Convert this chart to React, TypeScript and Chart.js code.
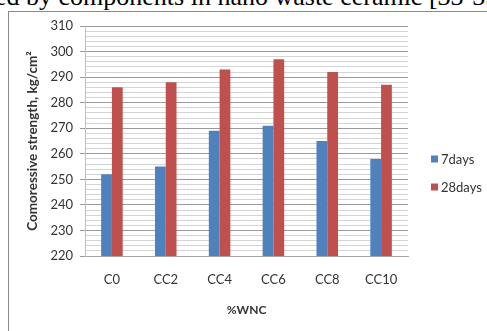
import React, { useEffect, useRef } from "react";
import { Chart, registerables } from "chart.js";

Chart.register(...registerables);

const categories = ["C0", "CC2", "CC4", "CC6", "CC8", "CC10"];
const days7 = [252, 255, 269, 271, 265, 258];
const days28 = [286, 288, 293, 297, 292, 287];
const seriesNames = ["7days", "28days"];
const seriesColors = ["#4F81BD", "#C0504D"];
const yMin = 220;
const yMax = 310;

const FONT = "Lato, 'Open Sans', sans-serif";

// Legend drawn to the right of the plot
const sideLegend = {
  id: "sideLegend",
  afterDraw(chart: any) {
    const { ctx } = chart;
    const x = 431;
    const ys = [159, 187];
    ctx.save();
    ctx.font = `13px ${FONT}`;
    ctx.textBaseline = "middle";
    chart.data.datasets.forEach((ds: any, i: number) => {
      const y = ys[i];
      ctx.fillStyle = ds.backgroundColor;
      ctx.fillRect(x, y - 3.5, 7, 7);
      ctx.fillStyle = "#333";
      ctx.fillText(ds.label, x + 10, y + 0.5);
    });
    ctx.restore();
  },
};

export default function App() {
  const canvasRef = useRef<HTMLCanvasElement | null>(null);

  useEffect(() => {
    if (!canvasRef.current) return;
    const chart = new Chart(canvasRef.current, {
      type: "bar",
      data: {
        labels: categories,
        datasets: [
          { label: seriesNames[0], data: days7, backgroundColor: seriesColors[0] },
          { label: seriesNames[1], data: days28, backgroundColor: seriesColors[1] },
        ],
      },
      options: {
        responsive: false,
        animation: false,
        layout: { padding: { top: 26, right: 79, left: 0, bottom: 0 } },
        plugins: { legend: { display: false }, tooltip: { enabled: false } },
        datasets: { bar: { categoryPercentage: 0.4, barPercentage: 1 } },
        scales: {
          x: {
            grid: { display: false, drawTicks: false },
            border: { display: true, color: "#a6a6a6" },
            ticks: { color: "#333", font: { family: FONT, size: 13 }, padding: 16 },
            title: {
              display: true,
              text: "%WNC",
              color: "#333",
              font: { family: FONT, size: 12, weight: "bold" },
              padding: { top: 0, bottom: 14 },
            },
            afterFit(scale: any) {
              scale.height = 75;
            },
          },
          y: {
            min: yMin,
            max: yMax,
            grid: {
              color: (c: any) => (c.tick && c.tick.value % 10 === 0 ? "#9a9a9a" : "#d4d4d4"),
              tickColor: (c: any) => (c.tick && c.tick.value % 10 === 0 ? "#9a9a9a" : "rgba(0,0,0,0)"),
              tickLength: 5,
            },
            border: { display: true, color: "#bfbfbf" },
            ticks: {
              stepSize: 2,
              autoSkip: false,
              color: "#333",
              padding: 7,
              font: { family: FONT, size: 13 },
              callback: (v: any) => (Number(v) % 10 === 0 ? String(v) : ""),
            },
            title: {
              display: true,
              text: "Comoressive strength, kg/cm²",
              color: "#333",
              font: { family: FONT, size: 13.5, weight: "bold" },
              padding: { top: 25, bottom: 0 },
            },
            afterFit(scale: any) {
              scale.width = 85;
            },
          },
        },
      },
      plugins: [sideLegend],
    });
    return () => chart.destroy();
  }, []);

  return (
    <div
      style={{
        position: "fixed",
        left: 0,
        top: 0,
        width: 487,
        height: 331,
        overflow: "hidden",
        background: "#fff",
      }}
    >
      <div
        style={{
          position: "absolute",
          left: -5,
          top: -16,
          fontFamily: "'Liberation Serif', 'Times New Roman', serif",
          fontSize: 26,
          lineHeight: "26px",
          whiteSpace: "nowrap",
          color: "#000",
        }}
      >
        ed by components in nano waste ceramic [33-35]
      </div>
      <div
        style={{
          position: "absolute",
          left: 8,
          top: 11,
          width: 500,
          height: 340,
          border: "1px solid #8a8a8a",
          boxSizing: "border-box",
        }}
      />
      <canvas
        ref={canvasRef}
        width={487}
        height={331}
        style={{ position: "absolute", left: 0, top: 0 }}
      />
    </div>
  );
}
